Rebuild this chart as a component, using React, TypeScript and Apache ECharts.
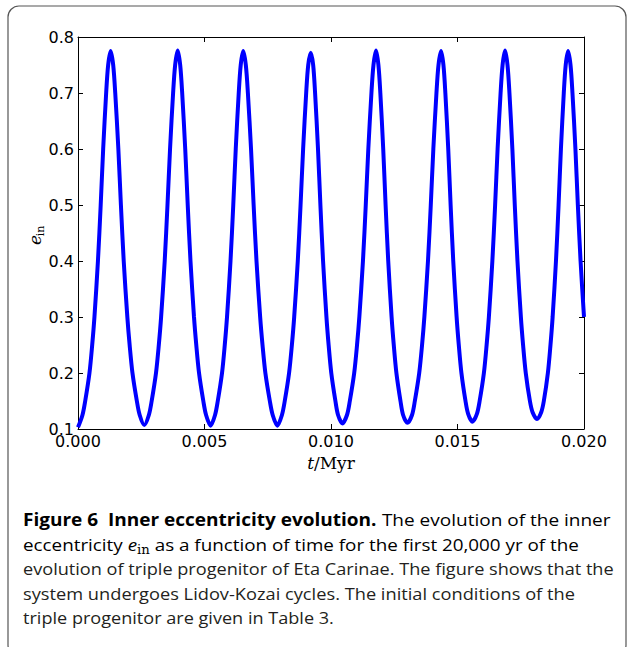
import React, { useEffect, useRef } from "react";
import * as echarts from "echarts";

// Time (Myr) and inner eccentricity, one array per Lidov-Kozai cycle
const cycle1: [number, number][] = [
  [0, 0.103], [0.000177, 0.125], [0.000285, 0.15], [0.000453, 0.2], [0.000561, 0.25], [0.00065, 0.3],
  [0.000788, 0.4], [0.000897, 0.5], [0.000995, 0.6], [0.001113, 0.7], [0.001192, 0.75], [0.00129, 0.775],
  [0.001391, 0.75], [0.001472, 0.7], [0.001595, 0.6], [0.001696, 0.5], [0.001807, 0.4], [0.00195, 0.3],
  [0.002041, 0.25], [0.002153, 0.2], [0.002326, 0.15], [0.002438, 0.125], [0.00262, 0.107],
];
const cycle2: [number, number][] = [
  [0.002801, 0.125], [0.002912, 0.15], [0.003083, 0.2], [0.003194, 0.25], [0.003285, 0.3], [0.003427, 0.4],
  [0.003537, 0.5], [0.003638, 0.6], [0.003759, 0.7], [0.00384, 0.75], [0.00394, 0.776], [0.004039, 0.75],
  [0.004118, 0.7], [0.004238, 0.6], [0.004337, 0.5], [0.004446, 0.4], [0.004585, 0.3], [0.004675, 0.25],
  [0.004784, 0.2], [0.004953, 0.15], [0.005062, 0.125], [0.00524, 0.106],
];
const cycle3: [number, number][] = [
  [0.005417, 0.125], [0.005525, 0.15], [0.005693, 0.2], [0.005801, 0.25], [0.00589, 0.3], [0.006028, 0.4],
  [0.006137, 0.5], [0.006235, 0.6], [0.006353, 0.7], [0.006432, 0.75], [0.00653, 0.775], [0.006633, 0.75],
  [0.006715, 0.7], [0.006839, 0.6], [0.006942, 0.5], [0.007055, 0.4], [0.0072, 0.3], [0.007293, 0.25],
  [0.007406, 0.2], [0.007582, 0.15], [0.007695, 0.125], [0.00788, 0.106],
];
const cycle4: [number, number][] = [
  [0.008061, 0.125], [0.008172, 0.15], [0.008343, 0.2], [0.008454, 0.25], [0.008545, 0.3], [0.008687, 0.4],
  [0.008797, 0.5], [0.008898, 0.6], [0.009019, 0.7], [0.0091, 0.75], [0.0092, 0.772], [0.009295, 0.75],
  [0.009371, 0.7], [0.009486, 0.6], [0.009581, 0.5], [0.009686, 0.4], [0.00982, 0.3], [0.009906, 0.25],
  [0.010011, 0.2], [0.010174, 0.15], [0.010279, 0.125], [0.01045, 0.11],
];
const cycle5: [number, number][] = [
  [0.010632, 0.125], [0.010744, 0.15], [0.010917, 0.2], [0.011029, 0.25], [0.01112, 0.3], [0.011263, 0.4],
  [0.011374, 0.5], [0.011475, 0.6], [0.011598, 0.7], [0.011679, 0.75], [0.01178, 0.776], [0.011874, 0.75],
  [0.01195, 0.7], [0.012064, 0.6], [0.012158, 0.5], [0.012262, 0.4], [0.012395, 0.3], [0.012481, 0.25],
  [0.012585, 0.2], [0.012746, 0.15], [0.01285, 0.125], [0.01302, 0.111],
];
const cycle6: [number, number][] = [
  [0.013202, 0.125], [0.013314, 0.15], [0.013487, 0.2], [0.013599, 0.25], [0.01369, 0.3], [0.013833, 0.4],
  [0.013944, 0.5], [0.014045, 0.6], [0.014168, 0.7], [0.014249, 0.75], [0.01435, 0.775], [0.014444, 0.75],
  [0.01452, 0.7], [0.014634, 0.6], [0.014728, 0.5], [0.014832, 0.4], [0.014965, 0.3], [0.015051, 0.25],
  [0.015155, 0.2], [0.015316, 0.15], [0.01542, 0.127], [0.01559, 0.113],
];
const cycle7: [number, number][] = [
  [0.015767, 0.127], [0.015875, 0.15], [0.016043, 0.2], [0.016151, 0.25], [0.01624, 0.3], [0.016378, 0.4],
  [0.016487, 0.5], [0.016585, 0.6], [0.016703, 0.7], [0.016782, 0.75], [0.01688, 0.776], [0.016976, 0.75],
  [0.017053, 0.7], [0.017169, 0.6], [0.017264, 0.5], [0.01737, 0.4], [0.017505, 0.3], [0.017592, 0.25],
  [0.017698, 0.2], [0.017862, 0.15], [0.017967, 0.13], [0.01814, 0.118],
];
const cycle8: [number, number][] = [
  [0.018309, 0.13], [0.018412, 0.15], [0.018572, 0.2], [0.018675, 0.25], [0.01876, 0.3], [0.018892, 0.4],
  [0.018995, 0.5], [0.019088, 0.6], [0.019201, 0.7], [0.019277, 0.75], [0.01937, 0.775], [0.019467, 0.75],
  [0.019544, 0.7], [0.019661, 0.6], [0.019757, 0.5], [0.019864, 0.4], [0.02, 0.3],
];

const xTickStep = 0.005;
const xRange = [0, 0.02];
const yTickStep = 0.1;
const yRange = [0.1, 0.8];

const captionBold = "Figure 6  Inner eccentricity evolution.";
const captionLine1Rest = " The evolution of the inner";
const captionLine2Pre = "eccentricity ";
const captionLine2Post = " as a function of time for the first 20,000 yr of the";
const captionLine3 = "evolution of triple progenitor of Eta Carinae. The figure shows that the";
const captionLine4 = "system undergoes Lidov-Kozai cycles. The initial conditions of the";
const captionLine5 = "triple progenitor are given in Table 3.";

const CAP_FONT = '"Open Sans", "Noto Sans", sans-serif';
const CAP_SIZE = 17;

function measure(text: string, font: string): number {
  const c = document.createElement("canvas").getContext("2d");
  if (!c) return text.length * 8;
  c.font = font;
  return c.measureText(text).width;
}

export default function App() {
  const ref = useRef<HTMLDivElement>(null);
  useEffect(() => {
    if (!ref.current) return;
    const chart = echarts.init(ref.current, null, { renderer: "svg" });
    const data = [
      ...cycle1, ...cycle2, ...cycle3, ...cycle4, ...cycle5, ...cycle6, ...cycle7, ...cycle8,
    ];

    const reg = `${CAP_SIZE}px ${CAP_FONT}`;
    const bold = `bold ${CAP_SIZE}px ${CAP_FONT}`;
    const capLeft = 23;
    const w1 = measure(captionBold, bold) + measure(captionLine1Rest, reg);
    const w2 =
      measure(captionLine2Pre, reg) +
      measure("e", `italic ${CAP_SIZE}px ${CAP_FONT}`) +
      measure("in", `12px "DejaVu Serif"`) +
      measure(captionLine2Post, reg);
    const w3 = measure(captionLine3, reg);
    const w4 = measure(captionLine4, reg);
    const w5 = measure(captionLine5, reg);
    const targets = [611 - capLeft, 579 - capLeft, 614 - capLeft, 575 - capLeft, 334 - capLeft];
    const lineY = [519, 544, 568, 593, 617];
    const capColor = "#231f20";
    const baseRich = {
      r: { fontFamily: CAP_FONT, fontSize: CAP_SIZE, color: capColor, lineHeight: 24 },
    };

    const axisCommon = {
      type: "value" as const,
      axisLine: { show: true, onZero: false, lineStyle: { color: "#000", width: 1 } },
      axisTick: { show: true, inside: true, length: 5, lineStyle: { color: "#000", width: 1 } },
      splitLine: { show: false },
    };

    const option: any = {
      animation: false,
      backgroundColor: "#fff",
      grid: { left: 78, top: 37, right: 43, bottom: 218, containLabel: false },
      xAxis: [
        {
          ...axisCommon,
          position: "bottom",
          min: xRange[0],
          max: xRange[1],
          interval: xTickStep,
          axisLabel: {
            formatter: (v: number) => v.toFixed(3),
            fontFamily: "DejaVu Sans",
            fontSize: 16,
            color: "#000",
            margin: 4,
            showMinLabel: true,
            showMaxLabel: true,
          },
        },
        {
          ...axisCommon,
          position: "top",
          min: xRange[0],
          max: xRange[1],
          interval: xTickStep,
          axisLabel: { show: false },
        },
      ],
      yAxis: [
        {
          ...axisCommon,
          position: "left",
          min: yRange[0],
          max: yRange[1],
          interval: yTickStep,
          axisLabel: {
            formatter: (v: number) => v.toFixed(1),
            fontFamily: "DejaVu Sans",
            fontSize: 16,
            color: "#000",
            margin: 4,
            showMinLabel: true,
            showMaxLabel: true,
          },
        },
        {
          ...axisCommon,
          position: "right",
          min: yRange[0],
          max: yRange[1],
          interval: yTickStep,
          axisLabel: { show: false },
        },
      ],
      series: [
        {
          type: "line",
          xAxisIndex: 0,
          yAxisIndex: 0,
          data,
          showSymbol: false,
          smooth: 0.3,
          lineStyle: { color: "#0000ff", width: 4 },
          itemStyle: { color: "#0000ff" },
          z: 1,
        },
      ],
      graphic: [
        {
          type: "rect",
          silent: true,
          z: -10,
          shape: { x: 8, y: 6, width: 618, height: 650, r: 11 },
          style: { fill: "none", stroke: "#555", lineWidth: 1.2 },
        },
        {
          type: "group",
          x: 37,
          y: 236,
          rotation: Math.PI / 2,
          children: [
            {
              type: "text",
              x: -4,
              y: -2,
              style: {
                text: "e",
                font: 'italic 17px "DejaVu Serif"',
                fill: "#000",
                textAlign: "center",
                textVerticalAlign: "middle",
                align: "center",
                verticalAlign: "middle",
              },
            },
            {
              type: "text",
              x: 5,
              y: 3,
              style: {
                text: "in",
                font: '11px "DejaVu Serif"',
                fill: "#000",
                textAlign: "center",
                textVerticalAlign: "middle",
                align: "center",
                verticalAlign: "middle",
              },
            },
          ],
        },
        {
          type: "text",
          x: 331,
          y: 463,
          style: {
            text: "{i|t}{n|/Myr}",
            rich: {
              i: { fontFamily: "DejaVu Serif", fontStyle: "italic", fontSize: 17, color: "#000" },
              n: { fontFamily: "DejaVu Serif", fontSize: 17, color: "#000" },
            },
            textAlign: "center",
            textVerticalAlign: "middle",
            align: "center",
            verticalAlign: "middle",
          },
        },
        {
          type: "text",
          x: capLeft,
          y: lineY[0],
          scaleX: targets[0] / w1,
          style: {
            text: `{b|${captionBold}}{r|${captionLine1Rest}}`,
            rich: {
              ...baseRich,
              b: { fontFamily: CAP_FONT, fontSize: CAP_SIZE, fontWeight: "bold", color: "#111", lineHeight: 24 },
            },
            textVerticalAlign: "middle",
            verticalAlign: "middle",
          },
        },
        {
          type: "text",
          x: capLeft,
          y: lineY[1],
          scaleX: targets[1] / w2,
          style: {
            text: `{r|${captionLine2Pre}}{e|e}{s|in}{r|${captionLine2Post}}`,
            rich: {
              ...baseRich,
              e: { fontFamily: CAP_FONT, fontStyle: "italic", fontSize: CAP_SIZE, color: capColor, lineHeight: 24 },
              s: { fontFamily: "DejaVu Serif", fontSize: 12, color: capColor, lineHeight: 12, verticalAlign: "bottom" },
            },
            textVerticalAlign: "middle",
            verticalAlign: "middle",
          },
        },
        ...[captionLine3, captionLine4, captionLine5].map((t, i) => ({
          type: "text",
          x: capLeft,
          y: lineY[i + 2],
          scaleX: targets[i + 2] / [w3, w4, w5][i],
          style: {
            text: t,
            font: reg,
            fill: capColor,
            textVerticalAlign: "middle",
            verticalAlign: "middle",
          },
        })),
      ],
    };
    chart.setOption(option);
    return () => chart.dispose();
  }, []);
  return (
    <div
      ref={ref}
      style={{ position: "fixed", left: 0, top: 0, width: 627, height: 647 }}
    />
  );
}
